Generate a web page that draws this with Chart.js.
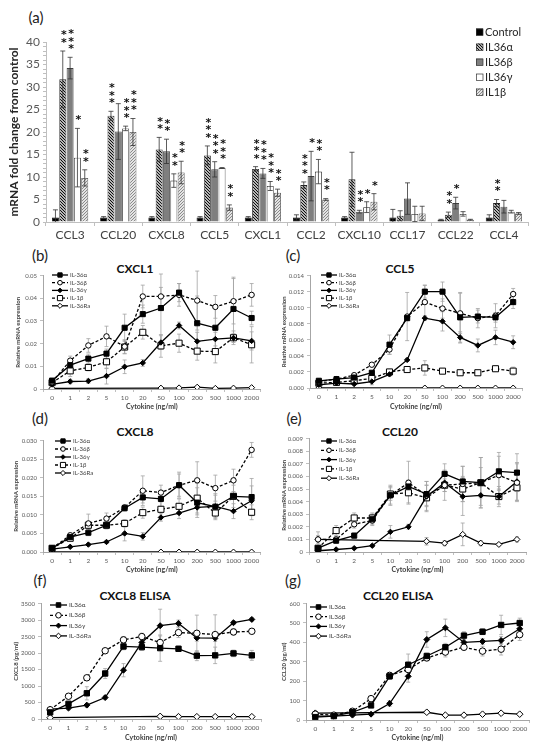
<!DOCTYPE html>
<html>
<head>
<meta charset="utf-8">
<script src="https://cdn.jsdelivr.net/npm/chart.js@4.4.1/dist/chart.umd.min.js"></script>
<style>
  body { margin: 0; background: #fff; width: 541px; height: 748px; position: relative; overflow: hidden; font-family: Lato, 'Open Sans', sans-serif; }
  canvas { position: absolute; }
  .lab { position: absolute; font-size: 15px; color: #222; transform: translate(-50%, -50%); }
  .ttl { position: absolute; font-size: 12px; font-weight: bold; color: #111; transform: translate(-50%, -50%); white-space: nowrap; }
</style>
</head>
<body>
<div class="lab" style="left:36px;top:17px">(a)</div>
<div class="lab" style="left:40px;top:255px">(b)</div>
<div class="lab" style="left:293px;top:255px">(c)</div>
<div class="lab" style="left:40px;top:418px">(d)</div>
<div class="lab" style="left:294px;top:418px">(e)</div>
<div class="lab" style="left:40px;top:580px">(f)</div>
<div class="lab" style="left:293px;top:580px">(g)</div>

<div class="ttl" style="left:135px;top:268px">CXCL1</div>
<div class="ttl" style="left:400px;top:268px">CCL5</div>
<div class="ttl" style="left:135px;top:431px">CXCL8</div>
<div class="ttl" style="left:400px;top:431px">CCL20</div>
<div class="ttl" style="left:135px;top:595px">CXCL8 ELISA</div>
<div class="ttl" style="left:398px;top:595px">CCL20 ELISA</div>

<canvas id="cA" width="541" height="245" style="left:0;top:0"></canvas>
<canvas id="cB" width="266" height="146" style="left:0;top:269px"></canvas>
<canvas id="cC" width="271" height="146" style="left:270px;top:269px"></canvas>
<canvas id="cD" width="266" height="144" style="left:0;top:434px"></canvas>
<canvas id="cE" width="271" height="146" style="left:270px;top:432px"></canvas>
<canvas id="cF" width="266" height="149" style="left:0;top:597px"></canvas>
<canvas id="cG" width="271" height="149" style="left:270px;top:597px"></canvas>

<script>
Chart.defaults.font.family = "Lato, 'Open Sans', sans-serif";
Chart.defaults.animation = false;

// ---- (a) fold change bars
const genes = ['CCL3', 'CCL20', 'CXCL8', 'CCL5', 'CXCL1', 'CCL2', 'CXCL10', 'CCL17', 'CCL22', 'CCL4'];
const foldControl = [1, 1, 1, 1, 1, 1, 1, 1, 0.5, 1];
const foldA = [31.7, 23.6, 16.1, 14.8, 11.8, 8.2, 9.5, 1.4, 1.6, 4.2];
const foldB = [34.2, 20.1, 15.7, 11.7, 10.8, 10.2, 2.3, 5.2, 4.2, 3.4];
const foldG = [14.3, 20.8, 9.2, 12.0, 8.0, 11.2, 3.3, 1.8, 1.8, 2.3];
const foldL = [9.8, 20.0, 11.0, 3.2, 6.5, 5.0, 4.5, 1.9, 0.5, 1.9];
const errControl = [1.7, 0.2, 0.2, 0.2, 0.2, 0.6, 0.2, 1.8, 0.1, 0.6];
const errA = [6.3, 1.0, 2.7, 2.1, 0.5, 0.7, 6.0, 1.1, 0.6, 0.8];
const errB = [2.4, 6.2, 2.7, 1.7, 1.1, 5.5, 0.3, 3.5, 1.3, 1.4];
const errG = [6.5, 0.5, 1.5, 0.1, 1.0, 2.7, 1.2, 1.7, 0.5, 0.3];
const errL = [1.8, 3.0, 2.5, 0.6, 0.8, 0.2, 1.8, 1.6, 0.1, 0.2];
// number of asterisks over each bar
const starsA = [2, 3, 2, 3, 3, 3, 0, 0, 2, 2];
const starsB = [3, 0, 2, 3, 3, 1, 2, 0, 1, 0];
const starsG = [1, 3, 2, 3, 3, 2, 1, 0, 0, 0];
const starsL = [2, 3, 2, 2, 2, 2, 1, 0, 0, 0];

// ---- dose response
const doses = ['0', '1', '2', '5', '10', '20', '50', '100', '200', '500', '1000', '2000'];

// (b) CXCL1
const cxcl1A = [0.0037, 0.0105, 0.0134, 0.0156, 0.027, 0.033, 0.0357, 0.0425, 0.029, 0.027, 0.0353, 0.0313];
const cxcl1B = [0.003, 0.0125, 0.0192, 0.0232, 0.0187, 0.0408, 0.0408, 0.0415, 0.039, 0.0362, 0.0387, 0.0415];
const cxcl1G = [0.002, 0.0033, 0.0035, 0.0057, 0.0098, 0.0115, 0.0205, 0.028, 0.021, 0.022, 0.0225, 0.0212];
const cxcl1L = [0.0028, 0.008, 0.0095, 0.012, 0.0185, 0.025, 0.019, 0.0202, 0.0167, 0.0165, 0.0226, 0.0195];
const cxcl1Ra = [0.0003, null, null, null, null, null, 0.0004, 0.0005, 0.0008, 0.0003, 0.0004, 0.0006];
const cxcl1AErr = [0.0005, 0.002, 0.002, 0.002, 0.006, 0.004, 0.015, 0.004, 0.012, 0.01, 0.014, 0.003];
const cxcl1BErr = [0.0005, 0.002, 0.003, 0.0045, 0.003, 0.005, 0.004, 0.005, 0.013, 0.005, 0.01, 0.005];
const cxcl1GErr = [0.0005, 0.001, 0.001, 0.0035, 0.003, 0.0015, 0.003, 0.0015, 0.004, 0.003, 0.002, 0.004];
const cxcl1LErr = [0.0005, 0.0025, 0.0015, 0.003, 0.003, 0.003, 0.005, 0.004, 0.004, 0.005, 0.003, 0.008];

// (c) CCL5
const ccl5A = [0.0009, 0.0011, 0.0013, 0.0019, 0.0054, 0.0087, 0.012, 0.012, 0.0088, 0.0089, 0.0088, 0.0107];
const ccl5B = [0.0008, 0.0011, 0.0016, 0.0029, 0.0048, 0.0089, 0.0107, 0.0099, 0.0093, 0.0087, 0.009, 0.0117];
const ccl5G = [0.0004, 0.0006, 0.0005, 0.0008, 0.0017, 0.0035, 0.0087, 0.0083, 0.0063, 0.0053, 0.0063, 0.0057];
const ccl5L = [0.0006, 0.0007, 0.0009, 0.0012, 0.002, 0.0023, 0.0025, 0.0021, 0.0019, 0.0019, 0.0024, 0.0021];
const ccl5Ra = [0, null, null, null, null, null, 0, 0, 0, 0, 0, 0];
const ccl5AErr = [0.0001, 0.0001, 0.0001, 0.0002, 0.0012, 0.0003, 0.0008, 0.0012, 0.0031, 0.0008, 0.0006, 0.0008];
const ccl5BErr = [0.0001, 0.0001, 0.0001, 0.0002, 0.0006, 0.003, 0.0021, 0.0012, 0.0025, 0.0012, 0.0015, 0.0007];
const ccl5GErr = [0.0001, 0.0001, 0.0002, 0.0004, 0.0002, 0.0002, 0.0003, 0.0012, 0.0007, 0.0008, 0.0009, 0.0008];
const ccl5LErr = [0.0001, 0.0001, 0.0001, 0.0001, 0.0002, 0.0002, 0.0009, 0.0002, 0.0002, 0.0002, 0.0002, 0.0005];

// (d) CXCL8
const cxcl8A = [0.001, 0.004, 0.0052, 0.0072, 0.0118, 0.0147, 0.0143, 0.018, 0.0133, 0.0122, 0.015, 0.0148];
const cxcl8B = [0.001, 0.0045, 0.0077, 0.009, 0.012, 0.0165, 0.016, 0.018, 0.0193, 0.0172, 0.0193, 0.0275];
const cxcl8G = [0.0008, 0.0014, 0.002, 0.0027, 0.005, 0.0042, 0.0093, 0.0105, 0.012, 0.0123, 0.011, 0.0138];
const cxcl8L = [0.001, 0.0037, 0.0072, 0.0072, 0.0077, 0.0106, 0.0115, 0.0123, 0.0145, 0.0105, 0.015, 0.0107];
const cxcl8Ra = [0, null, null, null, null, null, 0, 0, 0, 0, 0, 0];
const cxcl8AErr = [0.0002, 0.0005, 0.0008, 0.0008, 0.0008, 0.0015, 0.002, 0.003, 0.004, 0.0035, 0.003, 0.005];
const cxcl8BErr = [0.0002, 0.0006, 0.0025, 0.0015, 0.0008, 0.004, 0.002, 0.0035, 0.005, 0.0035, 0.003, 0.002];
const cxcl8GErr = [0.0002, 0.0003, 0.0003, 0.0004, 0.002, 0.001, 0.001, 0.0015, 0.002, 0.003, 0.002, 0.004];
const cxcl8LErr = [0.0002, 0.0005, 0.001, 0.001, 0.001, 0.0015, 0.002, 0.002, 0.004, 0.0015, 0.004, 0.002];

// (e) CCL20
const ccl20A = [0.0003, 0.0009, 0.0013, 0.0026, 0.0045, 0.0052, 0.0046, 0.0062, 0.0056, 0.0055, 0.0064, 0.0063];
const ccl20B = [0.001, 0.001, 0.0022, 0.0025, 0.0045, 0.0055, 0.0045, 0.0053, 0.0054, 0.0055, 0.0061, 0.0055];
const ccl20G = [0.0001, 0.0002, 0.0003, 0.0005, 0.0016, 0.002, 0.0044, 0.0055, 0.0044, 0.0045, 0.0044, 0.0056];
const ccl20L = [0.0003, 0.0017, 0.0027, 0.0027, 0.0046, 0.0047, 0.0043, 0.0053, 0.005, 0.0055, 0.0044, 0.0051];
const ccl20Ra = [0.001, null, null, null, null, null, 0.00085, 0.0007, 0.0014, 0.0007, 0.0006, 0.001];
const ccl20AErr = [0.0001, 0.0002, 0.0002, 0.0004, 0.0008, 0.0005, 0.001, 0.0008, 0.0012, 0.002, 0.0015, 0.0015];
const ccl20BErr = [0.0003, 0.0002, 0.0003, 0.0004, 0.0007, 0.0017, 0.0008, 0.0012, 0.0014, 0.002, 0.0015, 0.0015];
const ccl20GErr = [0.0001, 0.0001, 0.0001, 0.0001, 0.0005, 0.0002, 0.0012, 0.0007, 0.0015, 0.0008, 0.0006, 0.0015];
const ccl20LErr = [0.0001, 0.0004, 0.0004, 0.0004, 0.0005, 0.0008, 0.001, 0.0005, 0.001, 0.0012, 0.0008, 0.001];
const ccl20RaErr = [0.0006, 0, 0, 0, 0, 0, 0.0003, 0.0002, 0.0009, 0.0002, 0.0001, 0.0002];

// (f) CXCL8 ELISA (pg/ml)
const elisa8A = [200, 460, 780, 1380, 2200, 2180, 2150, 2130, 1920, 1930, 1990, 1930];
const elisa8B = [280, 690, 1250, 2070, 2400, 2500, 2320, 2620, 2600, 2560, 2640, 2660];
const elisa8G = [300, 330, 420, 650, 1480, 2320, 2830, 2900, 2460, 2450, 2920, 3020];
const elisa8Ra = [40, null, null, null, null, null, 80, 70, 70, 70, 70, 70];
const elisa8AErr = [30, 80, 200, 150, 100, 100, 400, 80, 150, 250, 100, 150];
const elisa8BErr = [30, 50, 60, 60, 100, 100, 200, 150, 550, 600, 100, 50];
const elisa8GErr = [30, 50, 60, 60, 200, 150, 500, 100, 100, 100, 50, 50];

// (g) CCL20 ELISA (pg/ml)
const elisa20A = [15, 20, 40, 75, 225, 285, 330, 375, 435, 455, 490, 500];
const elisa20B = [30, 25, 45, 110, 230, 260, 320, 350, 375, 355, 365, 440];
const elisa20G = [20, 20, 25, 30, 85, 225, 415, 475, 400, 405, 410, 470];
const elisa20Ra = [35, null, null, null, null, null, 40, 25, 25, 30, 35, 30];
const elisa20AErr = [5, 5, 5, 10, 15, 55, 15, 20, 20, 15, 50, 25];
const elisa20BErr = [5, 5, 5, 10, 15, 30, 15, 25, 15, 25, 30, 30];
const elisa20GErr = [5, 5, 5, 5, 15, 30, 40, 45, 30, 15, 20, 20];

// ---------- plugins
const errorBars = {
  id: 'errorBars',
  draw(chart, o) {
    const ctx = chart.ctx, y = chart.scales.y;
    ctx.save();
    ctx.strokeStyle = o.color;
    ctx.lineWidth = o.width;
    chart.data.datasets.forEach((ds, i) => {
      if (!ds.err) return;
      chart.getDatasetMeta(i).data.forEach((el, j) => {
        const v = ds.data[j], e = ds.err[j];
        if (v == null || !e) return;
        const x = el.x;
        const t = y.getPixelForValue(v + e);
        const b = y.getPixelForValue(Math.max(v - e, 0));
        ctx.beginPath();
        ctx.moveTo(x, t); ctx.lineTo(x, b);
        ctx.moveTo(x - o.cap, t); ctx.lineTo(x + o.cap, t);
        if (v - e > 0) { ctx.moveTo(x - o.cap, b); ctx.lineTo(x + o.cap, b); }
        ctx.stroke();
      });
    });
    ctx.restore();
  },
  beforeDatasetsDraw(chart, args, o) { if (!o.after) this.draw(chart, o); },
  afterDatasetsDraw(chart, args, o) { if (o.after) this.draw(chart, o); }
};

const starMarks = {
  id: 'starMarks',
  afterDatasetsDraw(chart) {
    const ctx = chart.ctx, y = chart.scales.y;
    ctx.save();
    ctx.fillStyle = '#111';
    ctx.font = 'bold 11px "DejaVu Sans"';
    ctx.textAlign = 'center';
    ctx.textBaseline = 'middle';
    chart.data.datasets.forEach((ds, i) => {
      if (!ds.stars) return;
      chart.getDatasetMeta(i).data.forEach((el, j) => {
        const n = ds.stars[j];
        if (!n) return;
        const top = y.getPixelForValue(ds.data[j] + ds.err[j]);
        for (let k = 0; k < n; k++) ctx.fillText('*', el.x + 1, top - 8 - k * 7.5);
      });
    });
    ctx.restore();
  }
};

const barLegend = {
  id: 'barLegend',
  afterDraw(chart, args, o) {
    const ctx = chart.ctx;
    ctx.save();
    chart.data.datasets.forEach((ds, i) => {
      const y = o.y + i * o.dy;
      ctx.fillStyle = ds.backgroundColor;
      ctx.fillRect(o.x, y - 3.5, 7, 7);
      ctx.strokeStyle = '#333';
      ctx.lineWidth = 0.7;
      ctx.strokeRect(o.x + 0.5, y - 3, 6.5, 6.5);
      ctx.fillStyle = '#262626';
      ctx.font = "11px Lato, 'Open Sans', sans-serif";
      ctx.textBaseline = 'middle';
      ctx.fillText(ds.label, o.x + 9, y + 0.5);
    });
    ctx.restore();
  }
};

const lineLegend = {
  id: 'lineLegend',
  afterDraw(chart, args, o) {
    const ctx = chart.ctx;
    ctx.save();
    chart.data.datasets.forEach((ds, i) => {
      const y = o.y + i * o.dy;
      ctx.strokeStyle = '#000';
      ctx.lineWidth = ds.borderWidth;
      ctx.setLineDash(ds.borderDash || []);
      ctx.beginPath(); ctx.moveTo(o.x, y); ctx.lineTo(o.x + o.len, y); ctx.stroke();
      ctx.setLineDash([]);
      ctx.fillStyle = ds.pointBackgroundColor;
      ctx.lineWidth = 1;
      Chart.helpers.drawPoint(ctx, { pointStyle: ds.pointStyle, radius: ds.pointRadius * 0.85, rotation: 0, borderWidth: 1 }, o.x + o.len / 2, y);
      ctx.fillStyle = '#404040';
      ctx.font = o.font;
      ctx.textBaseline = 'middle';
      ctx.fillText(ds.label, o.x + o.len + 2, y);
    });
    ctx.restore();
  }
};

// ---------- (a)
function hatch() {
  const c = document.createElement('canvas'); c.width = c.height = 3;
  const x = c.getContext('2d');
  x.fillStyle = '#fff'; x.fillRect(0, 0, 3, 3);
  x.strokeStyle = '#000'; x.lineWidth = 1.1;
  x.beginPath();
  x.moveTo(-1, -1); x.lineTo(4, 4);
  x.moveTo(-1, 2); x.lineTo(1, 4);
  x.moveTo(2, -1); x.lineTo(4, 1);
  x.stroke();
  return x.createPattern(c, 'repeat');
}
function dots() {
  const c = document.createElement('canvas'); c.width = c.height = 3;
  const x = c.getContext('2d');
  x.fillStyle = '#e4e4e4'; x.fillRect(0, 0, 3, 3);
  x.fillStyle = '#8a8a8a'; x.fillRect(0, 0, 1, 1); x.fillRect(1, 2, 1, 1); x.fillRect(2, 1, 1, 1);
  return x.createPattern(c, 'repeat');
}

new Chart(document.getElementById('cA'), {
  type: 'bar',
  data: {
    labels: genes,
    datasets: [
      { label: 'Control', data: foldControl, err: errControl, backgroundColor: '#000', borderColor: '#000', borderWidth: 0.8 },
      { label: 'IL36α', data: foldA, err: errA, stars: starsA, backgroundColor: hatch(), borderColor: '#222', borderWidth: 0.8 },
      { label: 'IL36β', data: foldB, err: errB, stars: starsB, backgroundColor: '#7f7f7f', borderColor: '#404040', borderWidth: 0.8 },
      { label: 'IL36γ', data: foldG, err: errG, stars: starsG, backgroundColor: '#fff', borderColor: '#222', borderWidth: 0.8 },
      { label: 'IL1β', data: foldL, err: errL, stars: starsL, backgroundColor: dots(), borderColor: '#404040', borderWidth: 0.8 }
    ]
  },
  options: {
    responsive: false,
    layout: { padding: { top: 42, right: 13, left: 0, bottom: 0 } },
    datasets: { bar: { barPercentage: 0.95, categoryPercentage: 0.76 } },
    plugins: {
      legend: { display: false },
      tooltip: { enabled: false },
      errorBars: { color: '#333', width: 0.8, cap: 2.5, after: true },
      barLegend: { x: 476, y: 32, dy: 15 }
    },
    scales: {
      x: {
        grid: { drawOnChartArea: false, tickLength: 4, color: '#bfbfbf' },
        border: { color: '#bfbfbf' },
        ticks: { color: '#404040', font: { size: 12 }, padding: 2, maxRotation: 0, autoSkip: false },
        afterFit(s) { s.height = 23; }
      },
      y: {
        min: 0, max: 40,
        grid: { drawOnChartArea: false, tickLength: 3, color: '#bfbfbf' },
        border: { color: '#bfbfbf' },
        ticks: { stepSize: 1, autoSkip: false, color: '#595959', font: { size: 12 }, padding: 3,
                 callback: v => (v % 5 === 0 ? String(v) : '') },
        title: { display: true, text: 'mRNA fold change from control', color: '#262626', font: { size: 12, weight: 'bold' }, padding: { top: 7 } },
        afterFit(s) { s.width = 46; }
      }
    }
  },
  plugins: [errorBars, starMarks, barLegend]
});

// ---------- dose-response panels
const STY = {
  a: { pointStyle: 'rect', r: 3.6, bg: '#000', dash: [] },
  b: { pointStyle: 'circle', r: 2.7, bg: '#fff', dash: [3, 2] },
  g: { pointStyle: 'rectRot', r: 2.7, bg: '#000', dash: [] },
  l: { pointStyle: 'rect', r: 4.3, bg: '#fff', dash: [3, 2] },
  r: { pointStyle: 'rectRot', r: 3, bg: '#fff', dash: [] }
};

function series(k, label, data, err, scale) {
  const s = STY[k];
  return {
    label, data, err,
    borderColor: '#000', borderWidth: 1.3, borderDash: s.dash,
    pointStyle: s.pointStyle, pointRadius: s.r * (scale || 1),
    pointBackgroundColor: s.bg, pointBorderColor: '#000', pointBorderWidth: 1,
    spanGaps: true, tension: 0
  };
}

function doseChart(id, sets, y, box, legend) {
  new Chart(document.getElementById(id), {
    type: 'line',
    data: { labels: doses, datasets: sets },
    options: {
      responsive: false,
      layout: { padding: { top: box.pt, right: box.pr, left: 0, bottom: 0 } },
      plugins: {
        legend: { display: false },
        tooltip: { enabled: false },
        errorBars: { color: '#a3a3a3', width: 0.8, cap: 2, after: false },
        lineLegend: legend
      },
      scales: {
        x: {
          offset: true,
          grid: { drawOnChartArea: false, offset: true, tickLength: 3, color: '#bfbfbf' },
          border: { color: '#a6a6a6' },
          ticks: { color: '#595959', font: { size: 6.5 }, padding: 2, maxRotation: 0, autoSkip: false },
          title: { display: true, text: 'Cytokine (ng/ml)', color: '#404040', font: { size: 7, weight: 'bold' }, padding: { top: 2, bottom: 4 } },
          afterFit(s) { s.height = box.hx; }
        },
        y: {
          min: 0, max: y.max,
          grid: { drawOnChartArea: false, tickLength: 3, color: '#bfbfbf' },
          border: { color: '#a6a6a6' },
          ticks: { stepSize: y.step, color: '#595959', font: { size: 6 }, padding: 3, callback: y.fmt },
          title: { display: true, text: y.title, color: '#404040', font: { size: 6, weight: 'bold' }, padding: { top: y.tpad } },
          afterFit(s) { s.width = box.wy; }
        }
      }
    },
    plugins: [errorBars, lineLegend]
  });
}

const legFont = "6px Lato, 'Open Sans', sans-serif";
const legFont2 = "6.5px Lato, 'Open Sans', sans-serif";
const fmt2 = v => (v === 0 ? '0' : v.toFixed(2));
const fmt3 = v => v.toFixed(3);
const fmt3z = v => (v === 0 ? '0' : v.toFixed(3));

doseChart('cB', [
  series('a', 'IL-36α', cxcl1A, cxcl1AErr),
  series('b', 'IL-36β', cxcl1B, cxcl1BErr),
  series('g', 'IL-36γ', cxcl1G, cxcl1GErr),
  series('l', 'IL-1β', cxcl1L, cxcl1LErr),
  series('r', 'IL-36Ra', cxcl1Ra, null)
], { max: 0.05, step: 0.01, fmt: fmt2, title: 'Relative mRNA expression', tpad: 14 },
   { wy: 43, hx: 26, pt: 6, pr: 5 }, { x: 52, y: 6, dy: 7.7, len: 16, font: legFont });

doseChart('cC', [
  series('a', 'IL-36α', ccl5A, ccl5AErr),
  series('b', 'IL-36β', ccl5B, ccl5BErr),
  series('g', 'IL-36γ', ccl5G, ccl5GErr),
  series('l', 'IL-1β', ccl5L, ccl5LErr),
  series('r', 'IL-36Ra', ccl5Ra, null)
], { max: 0.014, step: 0.002, fmt: fmt3, title: 'Relative mRNA expression', tpad: 10 },
   { wy: 40, hx: 27, pt: 6, pr: 19 }, { x: 51, y: 6, dy: 7.7, len: 16, font: legFont });

doseChart('cD', [
  series('a', 'IL-36α', cxcl8A, cxcl8AErr),
  series('b', 'IL-36β', cxcl8B, cxcl8BErr),
  series('g', 'IL-36γ', cxcl8G, cxcl8GErr),
  series('l', 'IL-1β', cxcl8L, cxcl8LErr),
  series('r', 'IL-36Ra', cxcl8Ra, null)
], { max: 0.03, step: 0.005, fmt: fmt3, title: 'Relative mRNA expression', tpad: 12 },
   { wy: 43, hx: 26, pt: 6, pr: 5 }, { x: 55, y: 7, dy: 8, len: 16, font: legFont });

doseChart('cE', [
  series('a', 'IL-36α', ccl20A, ccl20AErr),
  series('b', 'IL-36β', ccl20B, ccl20BErr),
  series('g', 'IL-36γ', ccl20G, ccl20GErr),
  series('l', 'IL-1β', ccl20L, ccl20LErr),
  series('r', 'IL-36Ra', ccl20Ra, ccl20RaErr)
], { max: 0.009, step: 0.001, fmt: fmt3z, title: 'Relative mRNA expression', tpad: 10 },
   { wy: 39, hx: 26, pt: 6, pr: 15 }, { x: 51, y: 9, dy: 9.3, len: 16, font: legFont });

doseChart('cF', [
  series('a', 'IL36α', elisa8A, elisa8AErr, 1.05),
  series('b', 'IL36β', elisa8B, elisa8BErr, 1.2),
  series('g', 'IL36γ', elisa8G, elisa8GErr, 1.1),
  series('r', 'IL-36Ra', elisa8Ra, null, 1.1)
], { max: 3500, step: 500, fmt: v => String(v), title: 'CXCL8 (pg/ml)', tpad: 12 },
   { wy: 41, hx: 27, pt: 6, pr: 4 }, { x: 50, y: 8, dy: 10.3, len: 17, font: legFont2 });

doseChart('cG', [
  series('a', 'IL36α', elisa20A, elisa20AErr, 1.05),
  series('b', 'IL36β', elisa20B, elisa20BErr, 1.2),
  series('g', 'IL36γ', elisa20G, elisa20GErr, 1.1),
  series('r', 'IL-36Ra', elisa20Ra, null, 1.1)
], { max: 600, step: 100, fmt: v => String(v), title: 'CCL20 (pg/ml)', tpad: 10 },
   { wy: 36, hx: 26, pt: 6, pr: 12 }, { x: 40, y: 10, dy: 9.7, len: 17, font: legFont2 });
</script>
</body>
</html>
